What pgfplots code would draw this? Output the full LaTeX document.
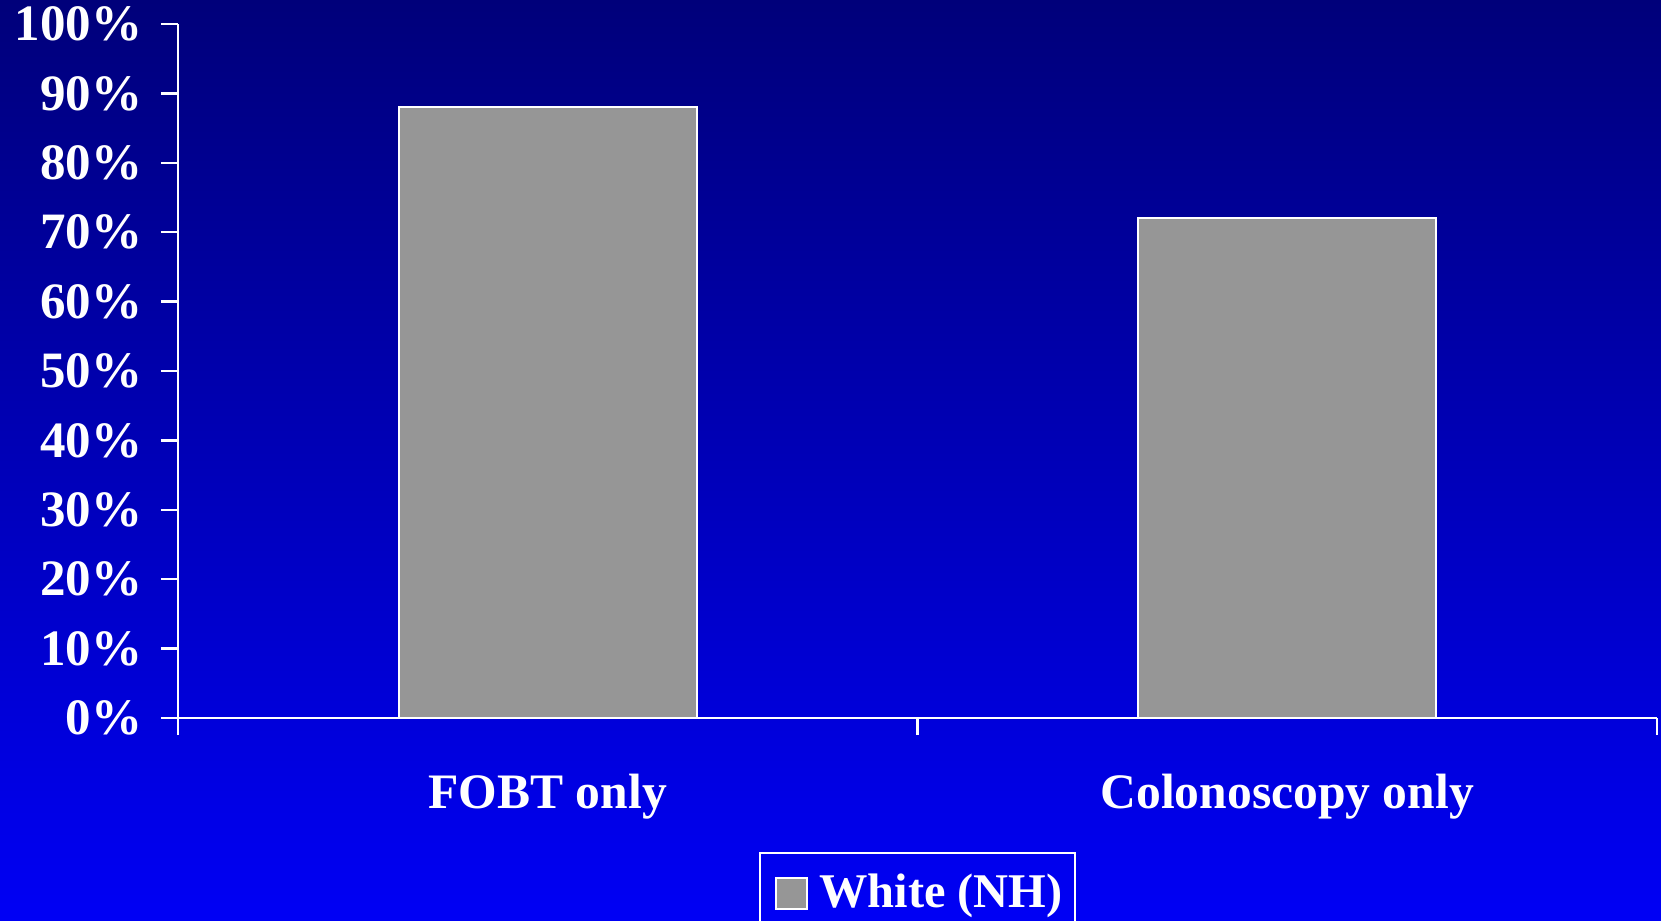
\documentclass[border=0pt]{standalone}
\usepackage{pgfplots}
\pgfplotsset{compat=1.18}
\usepackage{fontspec}
\setmainfont{Liberation Serif}
\definecolor{bgtop}{RGB}{0,0,122}
\definecolor{bgbot}{RGB}{0,0,245}
\definecolor{bargray}{RGB}{150,150,150}
\begin{document}
\begin{tikzpicture}
% slide background
\shade[top color=bgtop, bottom color=bgbot] (0,0) rectangle (415.25bp,230.25bp);
\begin{axis}[
  at={(44.5bp,50.75bp)}, anchor=south west,
  scale only axis, width=369.75bp, height=173.5bp,
  xmin=0, xmax=2, ymin=0, ymax=100,
  axis x line=bottom, axis y line=left,
  axis line style={-, white, line width=0.6bp},
  tick align=outside, major tick length=4.25bp,
  tick style={white, line width=0.6bp},
  xtick={0,1,2}, xticklabels={},
  extra x ticks={0.5,1.5},
  extra x tick labels={FOBT only, Colonoscopy only},
  extra x tick style={major tick length=0pt,
    tick label style={yshift=-10.6bp, font=\fontsize{12.4bp}{15bp}\selectfont\bfseries}},
  ytick={0,10,...,100},
  yticklabel={\pgfmathprintnumber{\tick}\%},
  yticklabel style={xshift=-1.2bp},
  /pgf/number format/assume math mode=true,
  ticklabel style={font=\fontsize{12.75bp}{15bp}\selectfont\bfseries, text=white},
  ybar, bar width=74.5bp,
  legend style={at={(0.5,-0.193)}, anchor=north, draw=white, line width=0.6bp,
    fill=none, text=white, font=\fontsize{12.1bp}{15bp}\selectfont\bfseries,
    inner xsep=1bp, inner ysep=3.2bp},
  legend image code/.code={
    \path[draw=none, fill=none] (0bp,0bp) -- (11.8bp,0bp);
    \draw[white, fill=bargray, line width=0.5bp]
      (3bp,-3.9bp) rectangle (10.8bp,3.9bp);},
]
\addplot[fill=bargray, draw=white, line width=0.5bp]
  coordinates {(0.5,88) (1.5,72)};
\addlegendentry{White (NH)}
\end{axis}
\pgfresetboundingbox
\path[use as bounding box] (0,0) rectangle (415.25bp,230.25bp);
\end{tikzpicture}
\end{document}
